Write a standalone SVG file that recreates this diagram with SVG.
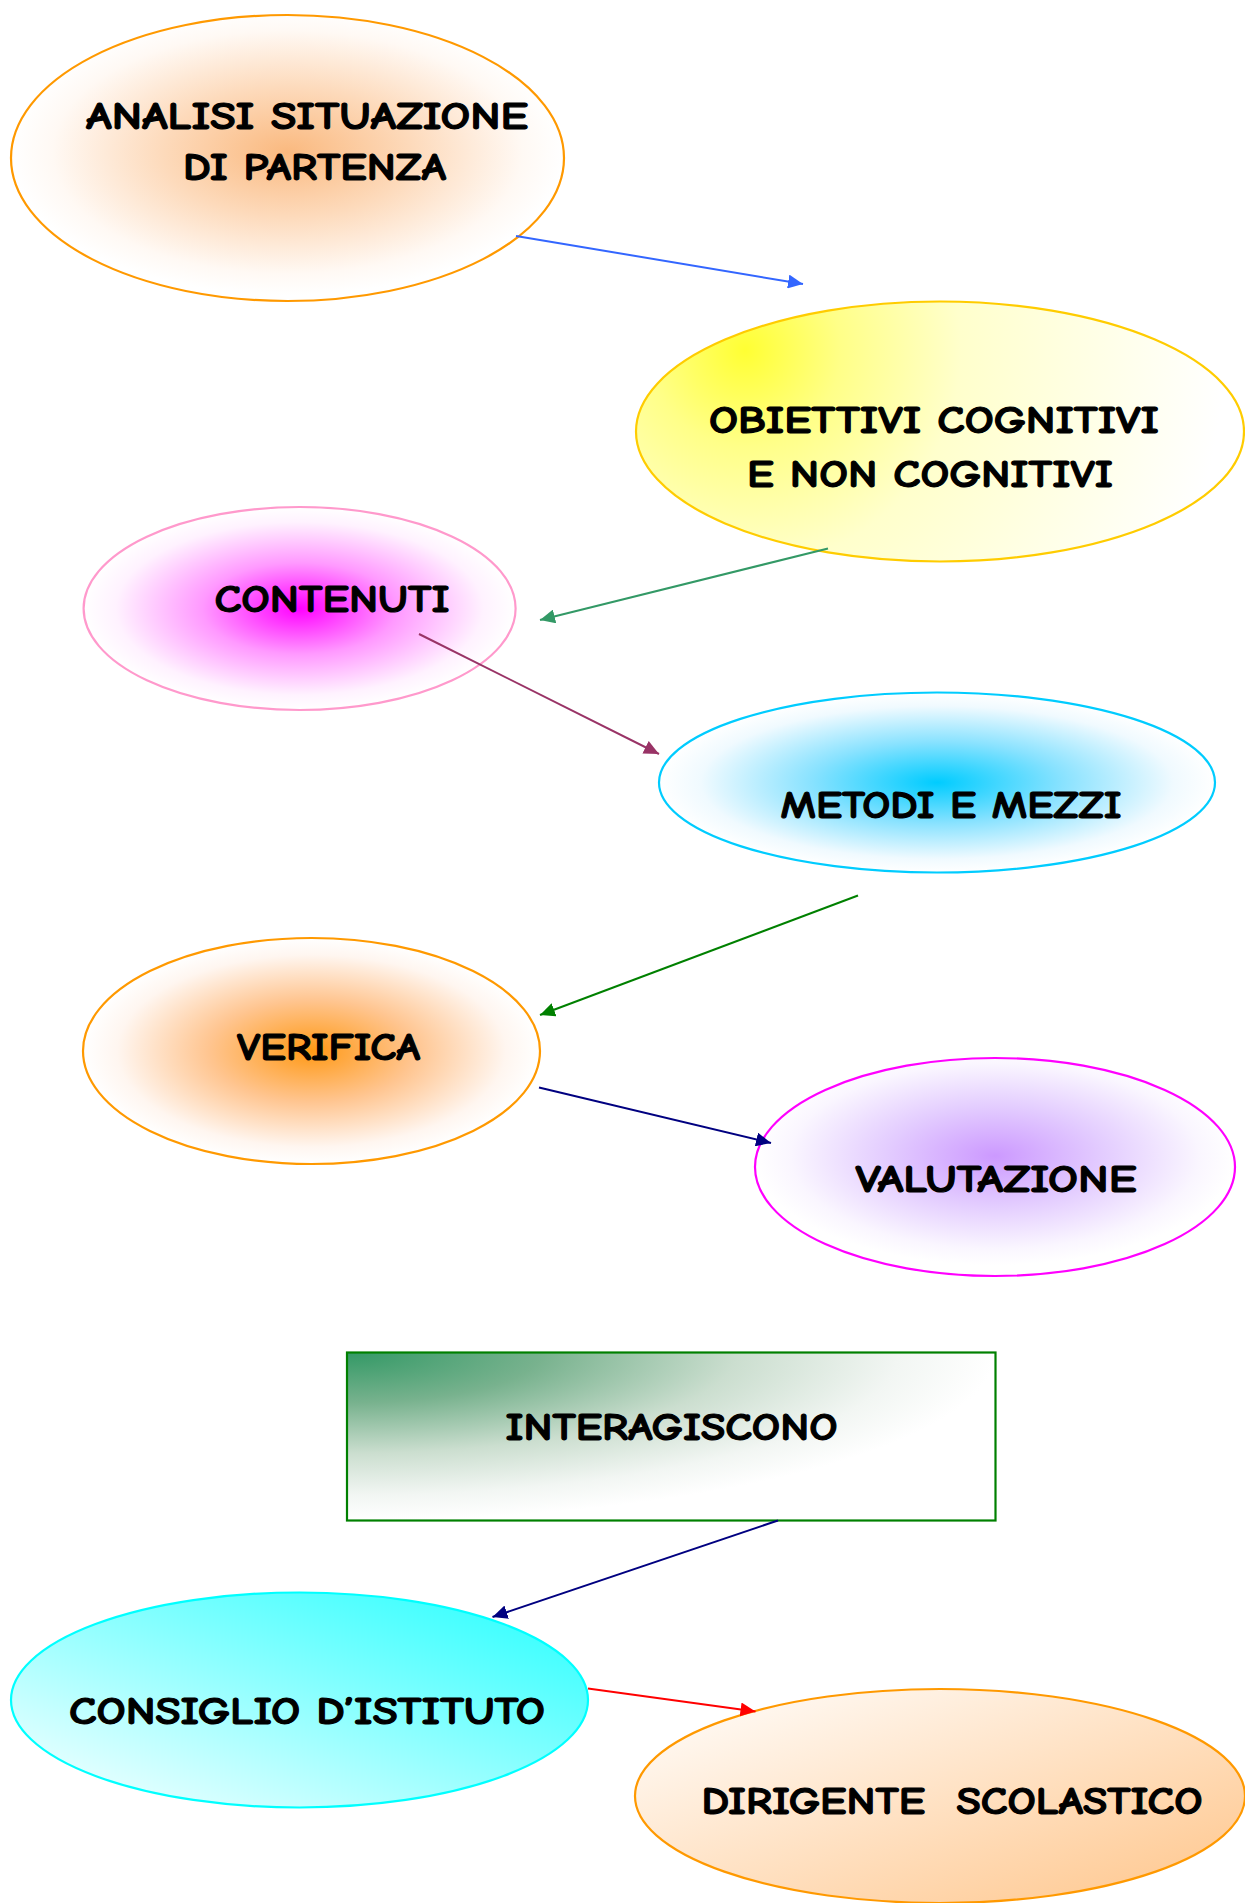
<svg xmlns="http://www.w3.org/2000/svg" width="1245" height="1903" viewBox="0 0 1245 1903">
<style>
.lbl{font-family:"Comic Sans MS","Comic Neue","DejaVu Sans",sans-serif;font-weight:bold;font-size:38px;fill:#000;stroke:#000;stroke-width:1.1px;stroke-linejoin:round;text-anchor:middle}
.node{stroke-width:2.2}
.conn{fill:none;stroke-width:2}
</style>
<defs>
<radialGradient id="gAnalisi" cx="0.5" cy="0.48" r="0.5">
<stop offset="0" stop-color="#FAB97F"/><stop offset="0.45" stop-color="#FDDABB"/><stop offset="0.85" stop-color="#FFF9F4"/><stop offset="1" stop-color="#FFFFFF"/>
</radialGradient>
<radialGradient id="gObiettivi" gradientUnits="userSpaceOnUse" cx="745" cy="350" r="480">
<stop offset="0" stop-color="#FFFF33"/><stop offset="0.2" stop-color="#FFFF88"/><stop offset="0.45" stop-color="#FFFFCC"/><stop offset="1" stop-color="#FFFFFF"/>
</radialGradient>
<radialGradient id="gContenuti" cx="0.5" cy="0.5" r="0.5">
<stop offset="0" stop-color="#FF00FF"/><stop offset="0.45" stop-color="#FF99FF"/><stop offset="0.85" stop-color="#FFF2FF"/><stop offset="1" stop-color="#FFFFFF"/>
</radialGradient>
<radialGradient id="gMetodi" cx="0.5" cy="0.5" r="0.5">
<stop offset="0" stop-color="#00CCFF"/><stop offset="0.45" stop-color="#88E2FF"/><stop offset="0.85" stop-color="#F0FAFF"/><stop offset="1" stop-color="#FFFFFF"/>
</radialGradient>
<radialGradient id="gVerifica" cx="0.5" cy="0.5" r="0.5">
<stop offset="0" stop-color="#FF9915"/><stop offset="0.45" stop-color="#FFC590"/><stop offset="0.85" stop-color="#FFF6F0"/><stop offset="1" stop-color="#FFFFFF"/>
</radialGradient>
<radialGradient id="gValutazione" cx="0.5" cy="0.45" r="0.5">
<stop offset="0" stop-color="#CC99FF"/><stop offset="0.45" stop-color="#E3CCFF"/><stop offset="0.85" stop-color="#FAF6FF"/><stop offset="1" stop-color="#FFFFFF"/>
</radialGradient>
<radialGradient id="gInter" cx="0" cy="0" r="1">
<stop offset="0" stop-color="#339966"/><stop offset="0.3" stop-color="#78B28E"/><stop offset="0.6" stop-color="#CBDECF"/><stop offset="0.85" stop-color="#F2F6F3"/><stop offset="1" stop-color="#FFFFFF"/>
</radialGradient>
<linearGradient id="gConsiglio" x1="0" y1="1" x2="1" y2="0">
<stop offset="0" stop-color="#FFFFFF"/><stop offset="1" stop-color="#22FFFF"/>
</linearGradient>
<linearGradient id="gDirigente" x1="0" y1="0" x2="1" y2="1">
<stop offset="0" stop-color="#FFFFFF"/><stop offset="1" stop-color="#FFC58A"/>
</linearGradient>
<marker id="aBlue" markerUnits="userSpaceOnUse" markerWidth="16" markerHeight="14" refX="15" refY="7" orient="auto"><path d="M0,0 L15,7 L0,14 Z" fill="#3366FF"/></marker>
<marker id="aGreen1" markerUnits="userSpaceOnUse" markerWidth="16" markerHeight="14" refX="15" refY="7" orient="auto"><path d="M0,0 L15,7 L0,14 Z" fill="#339966"/></marker>
<marker id="aPlum" markerUnits="userSpaceOnUse" markerWidth="16" markerHeight="14" refX="15" refY="7" orient="auto"><path d="M0,0 L15,7 L0,14 Z" fill="#993366"/></marker>
<marker id="aGreen2" markerUnits="userSpaceOnUse" markerWidth="16" markerHeight="14" refX="15" refY="7" orient="auto"><path d="M0,0 L15,7 L0,14 Z" fill="#008000"/></marker>
<marker id="aNavy" markerUnits="userSpaceOnUse" markerWidth="16" markerHeight="14" refX="15" refY="7" orient="auto"><path d="M0,0 L15,7 L0,14 Z" fill="#000080"/></marker>
<marker id="aRed" markerUnits="userSpaceOnUse" markerWidth="16" markerHeight="14" refX="15" refY="7" orient="auto"><path d="M0,0 L15,7 L0,14 Z" fill="#FF0000"/></marker>
</defs>
<rect width="1245" height="1903" fill="#FFFFFF"/>

<g id="node-analisi">
<ellipse class="node" cx="287.5" cy="158" rx="276.5" ry="143" fill="url(#gAnalisi)" stroke="#FF9900"/>
<text class="lbl" x="307" y="129" textLength="442" lengthAdjust="spacingAndGlyphs">ANALISI SITUAZIONE</text>
<text class="lbl" x="314.5" y="180" textLength="263" lengthAdjust="spacingAndGlyphs">DI PARTENZA</text>
</g>

<g id="node-obiettivi">
<ellipse class="node" cx="940" cy="431.5" rx="304" ry="130" fill="url(#gObiettivi)" stroke="#FFCC00"/>
<text class="lbl" x="934" y="433" textLength="450" lengthAdjust="spacingAndGlyphs">OBIETTIVI COGNITIVI</text>
<text class="lbl" x="930" y="487" textLength="366" lengthAdjust="spacingAndGlyphs">E NON COGNITIVI</text>
</g>

<g id="node-contenuti">
<ellipse class="node" cx="299.6" cy="608.5" rx="216" ry="101.5" fill="url(#gContenuti)" stroke="#FF99CC"/>
<text class="lbl" x="332" y="612" textLength="235" lengthAdjust="spacingAndGlyphs">CONTENUTI</text>
</g>

<g id="node-metodi">
<ellipse class="node" cx="937" cy="782.5" rx="278" ry="90" fill="url(#gMetodi)" stroke="#00CCFF"/>
<text class="lbl" x="951" y="818" textLength="341" lengthAdjust="spacingAndGlyphs">METODI E MEZZI</text>
</g>

<g id="node-verifica">
<ellipse class="node" cx="311.5" cy="1051" rx="228.5" ry="113" fill="url(#gVerifica)" stroke="#FF9900"/>
<text class="lbl" x="328.5" y="1060" textLength="183" lengthAdjust="spacingAndGlyphs">VERIFICA</text>
</g>

<g id="node-valutazione">
<ellipse class="node" cx="995" cy="1167" rx="240" ry="109" fill="url(#gValutazione)" stroke="#FF00FF"/>
<text class="lbl" x="996" y="1192" textLength="281" lengthAdjust="spacingAndGlyphs">VALUTAZIONE</text>
</g>

<g id="node-interagiscono">
<rect class="node" x="347" y="1352.5" width="648.5" height="168" fill="url(#gInter)" stroke="#008000"/>
<text class="lbl" x="671.5" y="1440" textLength="332" lengthAdjust="spacingAndGlyphs">INTERAGISCONO</text>
</g>

<g id="node-consiglio">
<ellipse class="node" cx="299.5" cy="1700" rx="288.5" ry="107.5" fill="url(#gConsiglio)" stroke="#00FFFF"/>
<text class="lbl" x="307" y="1724" textLength="476" lengthAdjust="spacingAndGlyphs">CONSIGLIO D’ISTITUTO</text>
</g>

<g id="node-dirigente">
<ellipse class="node" cx="940" cy="1796" rx="305" ry="107" fill="url(#gDirigente)" stroke="#FF9900"/>
<text class="lbl" x="952" y="1814" textLength="501" lengthAdjust="spacingAndGlyphs" xml:space="preserve">DIRIGENTE  SCOLASTICO</text>
</g>

<g id="connectors">
<line class="conn" x1="516" y1="236" x2="803" y2="284" stroke="#3366FF" marker-end="url(#aBlue)"/>
<line class="conn" x1="828" y1="548.5" x2="540" y2="620" stroke="#339966" marker-end="url(#aGreen1)"/>
<line class="conn" x1="419" y1="634" x2="659" y2="754" stroke="#993366" marker-end="url(#aPlum)"/>
<line class="conn" x1="858" y1="895.5" x2="540" y2="1015" stroke="#008000" marker-end="url(#aGreen2)"/>
<line class="conn" x1="539" y1="1087.5" x2="771" y2="1143" stroke="#000080" marker-end="url(#aNavy)"/>
<line class="conn" x1="778" y1="1520.5" x2="492.5" y2="1617" stroke="#000080" marker-end="url(#aNavy)"/>
<line class="conn" x1="588" y1="1688.5" x2="755.5" y2="1711.5" stroke="#FF0000" marker-end="url(#aRed)"/>
</g>
</svg>
